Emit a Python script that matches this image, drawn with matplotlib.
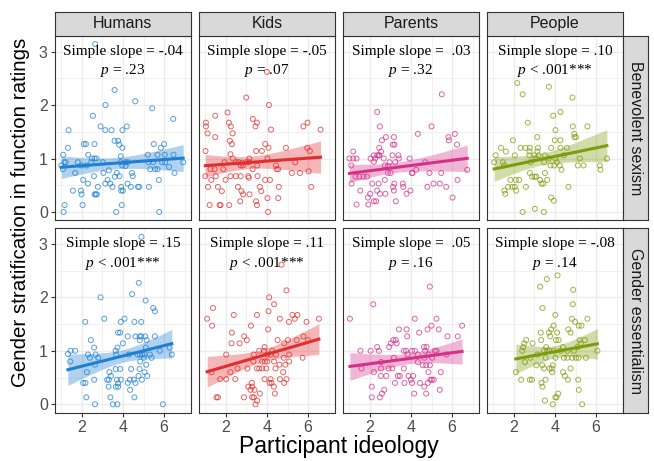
import numpy as np
import matplotlib
matplotlib.use("Agg")
import matplotlib.pyplot as plt

plt.rcParams["font.family"] = ["Liberation Sans", "DejaVu Sans"]
plt.rcParams["mathtext.fontset"] = "custom"
plt.rcParams["mathtext.rm"] = "Liberation Serif"
plt.rcParams["mathtext.it"] = "Liberation Serif:italic"

# ---------------------------------------------------------------------------
# Data
# ---------------------------------------------------------------------------
targets = ["Humans", "Kids", "Parents", "People"]
measures = ["Benevolent sexism", "Gender essentialism"]
colors = ["#1F7FD2", "#E12E2E", "#D62F8A", "#7E9B0C"]

slope_text = [
    ["Simple slope = -.04", "Simple slope = -.05", "Simple slope =  .03", "Simple slope = .10"],
    ["Simple slope = .15", "Simple slope = .11", "Simple slope =  .05", "Simple slope = -.08"],
]
p_text = [
    ["$p$ = .23", "$p$ = .07", "$p$ = .32", "$p$ < .001***"],
    ["$p$ < .001***", "$p$ < .001***", "$p$ = .16", "$p$ = .14"],
]

# Benevolent sexism row
humans_bs_x = [2.66, 3.6, 3.16, 4.6, 5.42, 2.55, 6.44, 1.37, 2.92, 3.15,
               3.45, 4.19, 3.98, 3.6, 3.77, 3.82, 2.11, 2.21, 2.63, 1.34,
               5.5, 5.84, 6.0, 3.98, 1.11, 2.32, 2.5, 2.63, 2.73, 3.9,
               5.21, 5.68, 6.03, 6.45, 1.16, 1.23, 1.82, 2.47, 3.03, 3.89,
               4.13, 4.23, 5.24, 5.47, 5.9, 6.05, 6.92, 1.02, 1.1, 1.98,
               2.24, 3.97, 4.13, 5.32, 5.56, 5.68, 6.24, 6.5, 1.69, 3.06,
               3.32, 4.44, 4.48, 2.6, 3.26, 3.61, 3.71, 3.84, 2.08, 2.31,
               3.15, 3.39, 3.92, 3.92, 4.0, 4.23, 4.39, 4.73, 4.79, 5.26,
               5.74, 1.97, 2.0, 1.58, 2.79, 3.5, 2.63, 2.69, 2.74, 1.18,
               2.05, 3.95, 1.13, 3.68, 5.76]
humans_bs_y = [3.14, 2.28, 2.0, 2.07, 1.94, 1.8, 1.74, 1.53, 1.6, 1.53,
               1.53, 1.6, 1.53, 1.33, 1.33, 1.26, 1.27, 1.27, 1.27, 1.2,
               1.27, 1.2, 1.27, 1.2, 1.07, 1.07, 1.0, 1.0, 1.0, 1.04,
               1.07, 1.07, 1.07, 1.07, 0.93, 0.93, 0.93, 0.93, 0.93, 0.93,
               0.93, 0.93, 0.93, 0.93, 0.93, 0.93, 0.93, 0.87, 0.8, 0.87,
               0.87, 0.87, 0.86, 0.8, 0.8, 0.8, 0.84, 0.73, 0.73, 0.73,
               0.78, 0.73, 0.67, 0.67, 0.6, 0.66, 0.73, 0.67, 0.6, 0.53,
               0.53, 0.53, 0.47, 0.4, 0.4, 0.53, 0.47, 0.47, 0.47, 0.47,
               0.6, 0.4, 0.33, 0.4, 0.47, 0.47, 0.33, 0.33, 0.33, 0.13,
               0.13, 0.13, 0.0, 0.0, 0.0]

kids_bs_x = [4.0, 3.0, 4.1, 1.5, 2.1, 1.05, 1.05, 2.16, 2.26, 3.32,
             3.52, 3.45, 5.77, 5.97, 6.6, 1.13, 2.34, 4.2, 1.5, 2.21,
             2.31, 3.92, 4.08, 1.03, 2.24, 3.48, 3.76, 4.92, 5.96, 6.08,
             2.35, 3.15, 4.03, 1.95, 2.5, 2.63, 2.79, 2.84, 3.14, 3.03,
             5.37, 1.27, 1.47, 1.89, 2.74, 3.31, 3.53, 4.44, 4.47, 4.55,
             5.21, 5.6, 6.02, 1.02, 1.31, 1.53, 2.0, 2.24, 2.5, 2.73,
             3.1, 3.13, 3.55, 3.92, 4.15, 1.15, 1.63, 2.6, 1.82, 2.77,
             2.85, 3.16, 3.66, 3.73, 4.58, 4.03, 4.55, 2.71, 3.48, 3.52,
             6.15, 1.23, 1.71, 1.76, 2.18, 4.06]
kids_bs_y = [2.62, 2.14, 2.0, 1.8, 1.86, 1.67, 1.6, 1.67, 1.6, 1.74,
             1.67, 1.6, 1.6, 1.67, 1.54, 1.47, 1.47, 1.54, 1.4, 1.33,
             1.27, 1.27, 1.2, 1.14, 1.08, 1.14, 1.14, 1.2, 1.2, 1.14,
             1.0, 1.0, 1.0, 0.93, 0.93, 0.93, 0.92, 0.87, 0.93, 0.93,
             0.93, 0.8, 0.8, 0.8, 0.87, 0.8, 0.87, 0.87, 0.8, 0.8,
             0.73, 0.73, 0.76, 0.67, 0.6, 0.67, 0.6, 0.67, 0.67, 0.67,
             0.67, 0.64, 0.67, 0.6, 0.6, 0.47, 0.47, 0.47, 0.39, 0.39,
             0.33, 0.33, 0.47, 0.39, 0.47, 0.26, 0.26, 0.2, 0.2, 0.13,
             0.47, 0.13, 0.13, 0.13, 0.13, 0.0]

parents_bs_x = [5.5, 2.37, 2.5, 5.0, 4.34, 5.82, 6.13, 5.84, 6.24, 2.79,
                3.18, 2.6, 3.13, 3.21, 2.47, 1.21, 2.21, 2.37, 2.48, 2.56,
                1.03, 1.21, 1.37, 2.05, 2.27, 2.44, 3.11, 3.4, 3.42, 3.94,
                2.69, 1.11, 2.21, 2.97, 2.74, 3.24, 4.69, 1.32, 1.5, 1.71,
                1.87, 2.89, 3.02, 4.08, 4.26, 4.9, 5.47, 6.73, 4.05, 1.13,
                2.13, 2.44, 3.2, 3.61, 5.1, 5.4, 4.8, 5.71, 6.26, 2.74,
                3.14, 3.63, 1.55, 2.37, 2.77, 3.18, 3.98, 3.79, 2.03, 2.5,
                1.92, 6.02, 2.21, 2.32, 3.27, 1.37, 1.94, 2.89]
parents_bs_y = [2.2, 1.87, 1.6, 1.6, 1.46, 1.4, 1.46, 1.34, 1.26, 1.4,
                1.4, 1.34, 1.26, 1.26, 1.2, 1.13, 1.06, 1.06, 1.06, 1.13,
                1.0, 1.0, 1.0, 1.0, 1.0, 1.06, 1.06, 1.06, 1.0, 1.0,
                1.0, 0.87, 0.94, 0.93, 0.87, 0.93, 0.93, 0.66, 0.66, 0.66,
                0.66, 0.73, 0.73, 0.73, 0.79, 0.73, 0.73, 0.79, 0.73, 0.53,
                0.53, 0.53, 0.53, 0.53, 0.53, 0.53, 0.47, 0.47, 0.6, 0.6,
                0.47, 0.47, 0.4, 0.4, 0.34, 0.4, 0.4, 0.34, 0.34, 0.34,
                0.27, 0.27, 0.2, 0.2, 0.2, 0.14, 0.14, 0.86]

people_bs_x = [2.18, 2.44, 3.71, 4.85, 4.27, 3.92, 2.69, 4.03, 4.87, 5.58,
               3.15, 1.97, 4.0, 4.27, 4.94, 5.02, 4.95, 1.39, 1.63, 2.34,
               2.58, 2.79, 3.18, 3.82, 4.27, 4.58, 2.77, 3.15, 2.06, 2.76,
               3.02, 3.21, 3.52, 1.13, 3.71, 4.03, 4.44, 5.21, 6.52, 1.06,
               1.48, 2.82, 3.06, 3.48, 3.79, 3.97, 4.1, 4.24, 5.11, 5.39,
               6.18, 1.55, 6.21, 4.32, 2.79, 2.9, 3.02, 3.1, 3.52, 1.85,
               2.11, 2.27, 3.29, 3.44, 3.63, 3.35, 1.74, 1.94, 2.06, 2.6,
               4.66, 1.6, 3.82, 3.95, 2.44, 3.03, 3.47, 2.13, 1.56]
people_bs_y = [2.41, 2.2, 2.34, 2.14, 1.87, 1.8, 1.67, 1.53, 1.6, 1.6,
               1.4, 1.34, 1.34, 1.34, 1.46, 1.4, 1.4, 1.2, 1.13, 1.2,
               1.2, 1.2, 1.2, 1.2, 1.2, 1.2, 1.13, 1.13, 1.06, 1.06,
               1.06, 1.06, 1.06, 1.06, 1.0, 1.0, 1.06, 1.0, 1.0, 0.93,
               0.93, 0.93, 1.0, 0.93, 0.87, 0.87, 0.93, 0.87, 0.87, 0.87,
               0.87, 0.87, 0.79, 0.79, 0.73, 0.66, 0.66, 0.66, 0.73, 0.6,
               0.6, 0.6, 0.6, 0.53, 0.6, 0.53, 0.47, 0.47, 0.47, 0.47,
               0.47, 0.34, 0.27, 0.21, 0.0, 0.06, 0.0, 0.4, 0.4]

# Gender essentialism row
humans_ge_x = [4.9, 4.77, 2.92, 4.45, 5.1, 5.47, 5.55, 3.1, 4.08, 2.18,
               3.9, 4.56, 4.89, 3.77, 3.87, 2.45, 4.24, 4.61, 4.81, 4.89,
               5.08, 5.55, 4.82, 5.15, 4.0, 2.61, 3.74, 5.11, 1.47, 1.69,
               1.34, 1.45, 2.31, 2.4, 2.68, 2.81, 3.65, 3.68, 4.29, 4.71,
               4.82, 4.94, 5.05, 5.31, 5.79, 6.26, 6.37, 5.39, 5.02, 4.84,
               5.13, 2.65, 2.26, 3.35, 3.65, 3.87, 4.4, 4.81, 5.05, 4.76,
               5.18, 3.42, 2.61, 3.24, 3.32, 3.71, 3.9, 4.34, 4.53, 4.61,
               4.92, 2.08, 2.19, 4.24, 3.31, 3.77, 3.66, 4.35, 3.4, 4.56,
               2.23, 2.65, 3.52, 3.73, 5.94, 3.77]
humans_ge_y = [3.13, 2.27, 2.0, 2.06, 1.94, 1.8, 1.74, 1.6, 1.6, 1.54,
               1.54, 1.54, 1.54, 1.34, 1.34, 1.2, 1.27, 1.27, 1.27, 1.27,
               1.27, 1.27, 1.2, 1.2, 1.14, 1.06, 1.06, 1.06, 1.0, 1.0,
               0.94, 0.8, 0.93, 0.87, 0.93, 0.87, 1.0, 0.93, 0.93, 0.93,
               0.93, 0.93, 0.93, 0.93, 1.0, 1.06, 0.93, 0.87, 0.87, 0.8,
               0.74, 0.74, 0.6, 0.6, 0.66, 0.66, 0.66, 0.66, 0.6, 0.53,
               0.53, 0.53, 0.46, 0.46, 0.46, 0.46, 0.46, 0.46, 0.46, 0.4,
               0.46, 0.4, 0.4, 0.4, 0.33, 0.33, 0.33, 0.27, 0.13, 0.13,
               0.13, 0.0, 0.0, 0.0, 0.0, 0.39]

kids_ge_x = [4.71, 4.95, 4.11, 4.35, 4.08, 1.11, 1.39, 1.35, 2.4, 3.52,
             4.63, 5.07, 5.24, 5.48, 5.35, 5.92, 6.52, 3.23, 2.31, 4.06,
             2.29, 2.68, 2.9, 3.03, 3.89, 4.52, 4.84, 5.02, 5.44, 5.77,
             6.0, 2.03, 3.37, 3.63, 3.86, 4.02, 4.18, 4.26, 4.44, 4.82,
             5.08, 5.73, 3.35, 3.77, 3.9, 4.02, 4.35, 4.61, 4.89, 5.08,
             1.32, 2.24, 2.58, 3.06, 3.52, 3.63, 3.77, 3.97, 4.42, 4.79,
             1.74, 2.03, 2.47, 3.89, 4.18, 4.63, 4.95, 4.84, 4.13, 4.23,
             3.1, 3.29, 3.21, 3.4, 4.34, 3.27, 4.39, 3.66, 1.56, 1.63,
             2.89, 3.29, 3.37, 3.45, 3.53]
kids_ge_y = [2.61, 2.13, 2.0, 1.87, 1.74, 1.6, 1.8, 1.47, 1.67, 1.67,
             1.6, 1.54, 1.67, 1.67, 1.6, 1.54, 1.6, 1.47, 1.34, 1.4,
             1.14, 1.14, 1.27, 1.2, 1.07, 1.2, 1.14, 1.2, 1.2, 1.27,
             1.2, 0.93, 0.93, 1.0, 1.0, 0.93, 0.93, 1.0, 0.93, 0.87,
             0.93, 0.87, 0.8, 0.8, 0.8, 0.8, 0.8, 0.74, 0.74, 0.8,
             0.6, 0.6, 0.67, 0.67, 0.67, 0.67, 0.67, 0.67, 0.67, 0.6,
             0.47, 0.47, 0.47, 0.47, 0.47, 0.47, 0.47, 0.4, 0.4, 0.4,
             0.33, 0.33, 0.27, 0.27, 0.33, 0.4, 0.2, 0.2, 0.13, 0.13,
             0.13, 0.13, 0.13, 0.0, 0.07]

parents_ge_x = [4.92, 2.18, 1.05, 4.19, 5.24, 6.48, 3.42, 3.79, 5.0, 5.35,
                4.4, 4.81, 3.15, 3.27, 3.82, 5.77, 6.27, 3.03, 3.31, 2.37,
                2.95, 2.45, 4.63, 4.76, 1.56, 2.05, 3.66, 3.77, 4.06, 4.19,
                4.69, 5.16, 5.24, 3.84, 4.34, 4.87, 5.73, 3.18, 4.65, 5.03,
                1.61, 2.92, 3.1, 2.56, 3.66, 4.34, 4.58, 4.74, 4.92, 4.85,
                2.21, 2.55, 2.81, 3.37, 3.47, 3.89, 4.11, 5.45, 4.95, 5.02,
                5.11, 3.23, 3.69, 4.0, 4.06, 4.44, 4.82, 2.11, 2.71, 4.65,
                5.4, 2.6, 2.5, 2.11, 4.16, 4.74, 2.56]
parents_ge_y = [2.2, 1.87, 1.6, 1.6, 1.6, 1.47, 1.4, 1.4, 1.47, 1.4,
                1.34, 1.4, 1.2, 1.2, 1.27, 1.27, 1.27, 1.14, 1.14, 1.07,
                1.07, 1.0, 1.07, 1.07, 1.0, 1.0, 1.0, 1.0, 1.0, 1.0,
                1.0, 1.0, 1.0, 0.93, 0.93, 0.93, 0.93, 0.87, 0.87, 0.87,
                0.67, 0.67, 0.67, 0.67, 0.67, 0.79, 0.73, 0.73, 0.73, 0.6,
                0.6, 0.53, 0.53, 0.53, 0.53, 0.53, 0.53, 0.6, 0.46, 0.46,
                0.46, 0.4, 0.4, 0.46, 0.4, 0.4, 0.4, 0.33, 0.27, 0.33,
                0.27, 0.2, 0.13, 0.13, 0.2, 0.2, 0.79]

people_ge_x = [4.13, 3.61, 3.29, 4.89, 3.4, 4.87, 4.02, 4.82, 5.58, 4.98,
               5.16, 5.29, 3.94, 3.82, 4.65, 3.32, 3.71, 4.11, 4.76, 3.77,
               3.34, 4.05, 4.18, 5.21, 5.45, 2.61, 2.52, 2.92, 2.47, 3.58,
               4.39, 5.1, 5.26, 2.42, 3.63, 3.74, 3.95, 4.27, 4.61, 4.92,
               6.06, 3.16, 3.47, 2.82, 3.55, 4.03, 4.44, 4.6, 4.84, 5.02,
               5.15, 5.5, 2.55, 3.1, 3.39, 3.74, 3.85, 3.9, 4.76, 3.47,
               2.11, 3.87, 4.4, 4.48, 4.63, 2.37, 2.79, 2.89, 3.55, 5.13,
               3.4, 3.35, 5.16, 4.08, 4.16, 4.02, 3.52, 3.9, 5.32]
people_ge_y = [2.41, 2.34, 2.2, 2.14, 1.8, 1.87, 1.67, 1.6, 1.6, 1.54,
               1.47, 1.47, 1.47, 1.4, 1.4, 1.34, 1.34, 1.34, 1.34, 1.27,
               1.2, 1.2, 1.2, 1.2, 1.2, 1.2, 1.14, 1.14, 1.07, 1.07,
               1.07, 1.07, 1.14, 1.0, 1.0, 1.0, 1.0, 1.0, 1.0, 1.0,
               1.0, 0.93, 1.0, 0.87, 0.87, 0.87, 0.87, 0.87, 0.87, 0.87,
               0.87, 0.87, 0.79, 0.73, 0.73, 0.67, 0.67, 0.73, 0.67, 0.67,
               0.6, 0.6, 0.6, 0.53, 0.46, 0.46, 0.46, 0.46, 0.46, 0.46,
               0.33, 0.4, 0.27, 0.13, 0.2, 0.13, 0.07, 0.0, 0.0]

panel_data = [
    [(humans_bs_x, humans_bs_y), (kids_bs_x, kids_bs_y),
     (parents_bs_x, parents_bs_y), (people_bs_x, people_bs_y)],
    [(humans_ge_x, humans_ge_y), (kids_ge_x, kids_ge_y),
     (parents_ge_x, parents_ge_y), (people_ge_x, people_ge_y)],
]

# ---------------------------------------------------------------------------
# Layout (pixels of the 654x461 canvas)
# ---------------------------------------------------------------------------
W, H = 654, 461
COL_LEFT = [54.7, 198.7, 342.7, 486.7]
PANEL_W = 136.3
ROW_TOP = [36.0, 228.3]
PANEL_H = 184.4
STRIP_TOP = 11.7
STRIP_R_W = 25.0

GRID = "#EBEBEB"
BORDER = "#333333"
STRIP_FILL = "#D9D9D9"


def px_rect(left, top, width, height):
    return [left / W, 1 - (top + height) / H, width / W, height / H]


def lm_band(x, y, n_pts=80):
    """Least-squares line with a 95% confidence band."""
    x = np.asarray(x, float)
    y = np.asarray(y, float)
    b, a = np.polyfit(x, y, 1)
    xs = np.linspace(x.min(), x.max(), n_pts)
    resid = y - (a + b * x)
    n = len(x)
    s = np.sqrt((resid ** 2).sum() / (n - 2))
    sxx = ((x - x.mean()) ** 2).sum()
    se = s * np.sqrt(1 / n + (xs - x.mean()) ** 2 / sxx)
    yhat = a + b * xs
    return xs, yhat, yhat - 1.984 * se, yhat + 1.984 * se


fig = plt.figure(figsize=(W / 100, H / 100), dpi=100)

for r in range(2):
    for c in range(4):
        ax = fig.add_axes(px_rect(COL_LEFT[c], ROW_TOP[r], PANEL_W, PANEL_H))
        x, y = panel_data[r][c]
        col = colors[c]

        ax.set_xlim(0.7, 7.3)
        ax.set_ylim(-0.157, 3.29)
        ax.set_xticks([2, 4, 6])
        ax.set_yticks([0, 1, 2, 3])
        ax.set_xticks([1, 3, 5, 7], minor=True)
        ax.set_yticks([0.5, 1.5, 2.5], minor=True)
        ax.grid(which="major", color=GRID, lw=1.0)
        ax.grid(which="minor", color=GRID, lw=0.5)
        ax.set_axisbelow(True)
        for sp in ax.spines.values():
            sp.set_color(BORDER)
            sp.set_linewidth(0.8)
        ax.tick_params(which="major", length=3, width=0.8, color=BORDER,
                       labelsize=11.5, labelcolor="#4D4D4D", pad=2)
        ax.tick_params(which="minor", length=0)
        if c > 0:
            ax.tick_params(axis="y", which="major", length=0, labelleft=False)
        if r == 0:
            ax.tick_params(axis="x", which="major", length=0, labelbottom=False)

        ax.scatter(x, y, s=13, facecolors="none", edgecolors=col,
                   linewidths=0.7, alpha=0.75, zorder=2)
        xs, yhat, lo, hi = lm_band(x, y)
        ax.fill_between(xs, lo, hi, color=col, alpha=0.35, lw=0, zorder=3)
        ax.plot(xs, yhat, color=col, lw=2.2, zorder=4)

        ax.text(4, 3.0, slope_text[r][c], ha="center", va="center",
                family="Liberation Serif", fontsize=11, color="black", zorder=5)
        ax.text(4, 2.64, p_text[r][c], ha="center", va="center",
                family="Liberation Serif", fontsize=11, color="black", zorder=5)

        # column strips on top
        if r == 0:
            sax = fig.add_axes(px_rect(COL_LEFT[c], STRIP_TOP, PANEL_W,
                                       ROW_TOP[0] - STRIP_TOP))
            sax.set_facecolor(STRIP_FILL)
            sax.set_xticks([])
            sax.set_yticks([])
            for sp in sax.spines.values():
                sp.set_color(BORDER)
                sp.set_linewidth(0.8)
            sax.text(0.5, 0.5, targets[c], ha="center", va="center",
                     fontsize=11.5, color="#1A1A1A", transform=sax.transAxes)

    # row strips on the right
    rax = fig.add_axes(px_rect(COL_LEFT[3] + PANEL_W, ROW_TOP[r], STRIP_R_W, PANEL_H))
    rax.set_facecolor(STRIP_FILL)
    rax.set_xticks([])
    rax.set_yticks([])
    for sp in rax.spines.values():
        sp.set_color(BORDER)
        sp.set_linewidth(0.8)
    rax.text(0.5, 0.5, measures[r], ha="center", va="center", rotation=-90,
             fontsize=11.5, color="#1A1A1A", transform=rax.transAxes)

fig.text((COL_LEFT[0] + COL_LEFT[3] + PANEL_W) / 2 / W, 1 - 446 / H,
         "Participant ideology", ha="center", va="center", fontsize=16.5)
fig.text(21 / W, 1 - 212 / H,
         "Gender stratification in function ratings", ha="center", va="center",
         rotation=90, fontsize=14.8)

fig.savefig("out.png", dpi=100)
